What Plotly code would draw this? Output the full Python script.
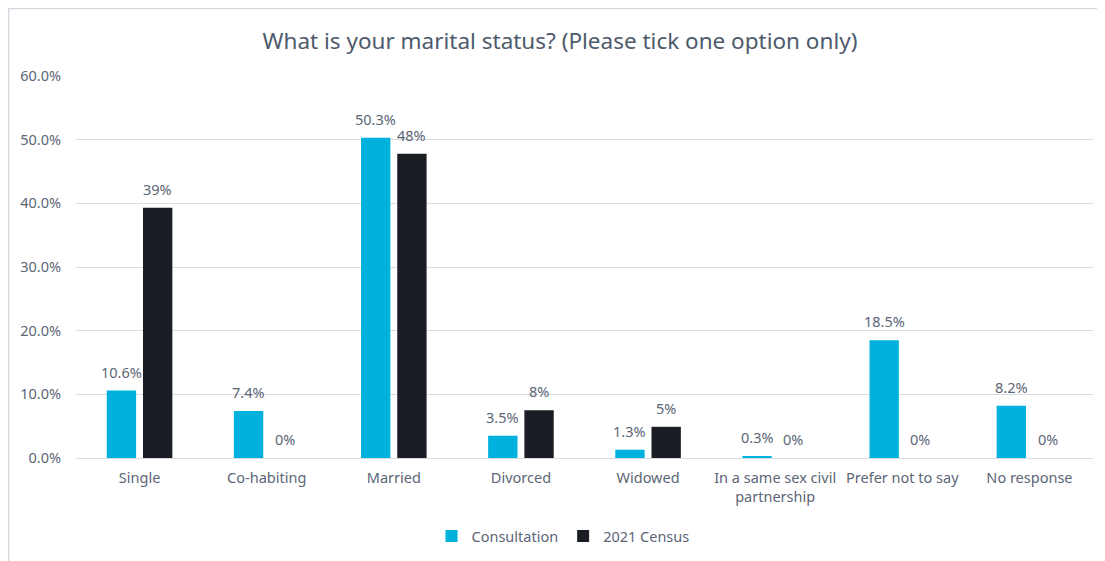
import plotly.graph_objects as go

categories = ["Single", "Co-habiting", "Married", "Divorced", "Widowed",
              "In a same sex civil<br>partnership", "Prefer not to say", "No response"]
consultation = [10.6, 7.4, 50.3, 3.5, 1.3, 0.3, 18.5, 8.2]
consultation_labels = ["10.6%", "7.4%", "50.3%", "3.5%", "1.3%", "0.3%", "18.5%", "8.2%"]
census = [39.3, 0, 47.8, 7.5, 4.9, 0, 0, 0]
census_labels = ["39%", "0%", "48%", "8%", "5%", "0%", "0%", "0%"]
y_ticks = [0, 10, 20, 30, 40, 50, 60]
y_tick_labels = ["0.0%", "10.0%", "20.0%", "30.0%", "40.0%", "50.0%", "60.0%"]

TXT = "#5B6676"
FONT = "Noto Sans"

fig = go.Figure()
fig.add_trace(go.Bar(name="Consultation", x=categories, y=consultation,
                     marker=dict(color="#00B1DE", line=dict(width=0))))
fig.add_trace(go.Bar(name="2021 Census", x=categories, y=census,
                     marker=dict(color="#1A1D23", line=dict(width=0))))

# page is offset by the 8px body margin
W, H = 1097, 553
L, T = 68, 68
R, B = 12, 103
pw, ph = W - L - R, H - T - B
cat_w = pw / len(categories)
bargap, bargroupgap = 0.43, 0.19
off = (1 - bargap) * cat_w / 4

annotations = []
for series, labels, sign in ((consultation, consultation_labels, -1), (census, census_labels, 1)):
    for c, v, t in zip(categories, series, labels):
        annotations.append(dict(x=c, y=v, xref="x", yref="y", text=t, showarrow=False,
                                xshift=sign * off, yanchor="bottom", yshift=7,
                                font=dict(size=14.5, color=TXT, family=FONT)))

fig.update_layout(
    width=W, height=H,
    margin=dict(l=L, r=R, t=T, b=B, autoexpand=False),
    paper_bgcolor="white", plot_bgcolor="white",
    barmode="group", bargap=bargap, bargroupgap=bargroupgap,
    font=dict(family=FONT, color=TXT, size=14),
    title=dict(text="What is your marital status? (Please tick one option only)",
               x=552 / W, xanchor="center", y=1 - 33 / H, yanchor="middle",
               font=dict(size=22.5, color="#4D5A6C", family=FONT)),
    legend=dict(orientation="h", x=(555 - L) / pw, xanchor="center",
                y=(450 - 528) / ph, yanchor="middle",
                font=dict(size=14.5, color=TXT, family=FONT),
                itemwidth=30, tracegroupgap=0),
    showlegend=True,
    annotations=annotations,
    xaxis=dict(showgrid=False, tickfont=dict(size=14.5, color=TXT), ticks="",
               showline=True, linecolor="#D9DCE3", linewidth=1, ticklabelstandoff=7),
    yaxis=dict(range=[0, 60], tickvals=y_ticks, ticktext=y_tick_labels,
               showgrid=True, gridcolor="#D9DCE3", gridwidth=1, zeroline=False,
               tickfont=dict(size=14.5, color=TXT), ticks="", ticklabelstandoff=14),
    shapes=[dict(type="rect", xref="paper", yref="paper",
                 x0=(0.5 - L) / pw, x1=(1110 - L) / pw,
                 y0=(450 - 600) / ph, y1=(450 - 0.5) / ph,
                 line=dict(color="#D5D8DE", width=1.5), fillcolor="rgba(0,0,0,0)",
                 layer="below")],
)

fig.write_html("out.html")
